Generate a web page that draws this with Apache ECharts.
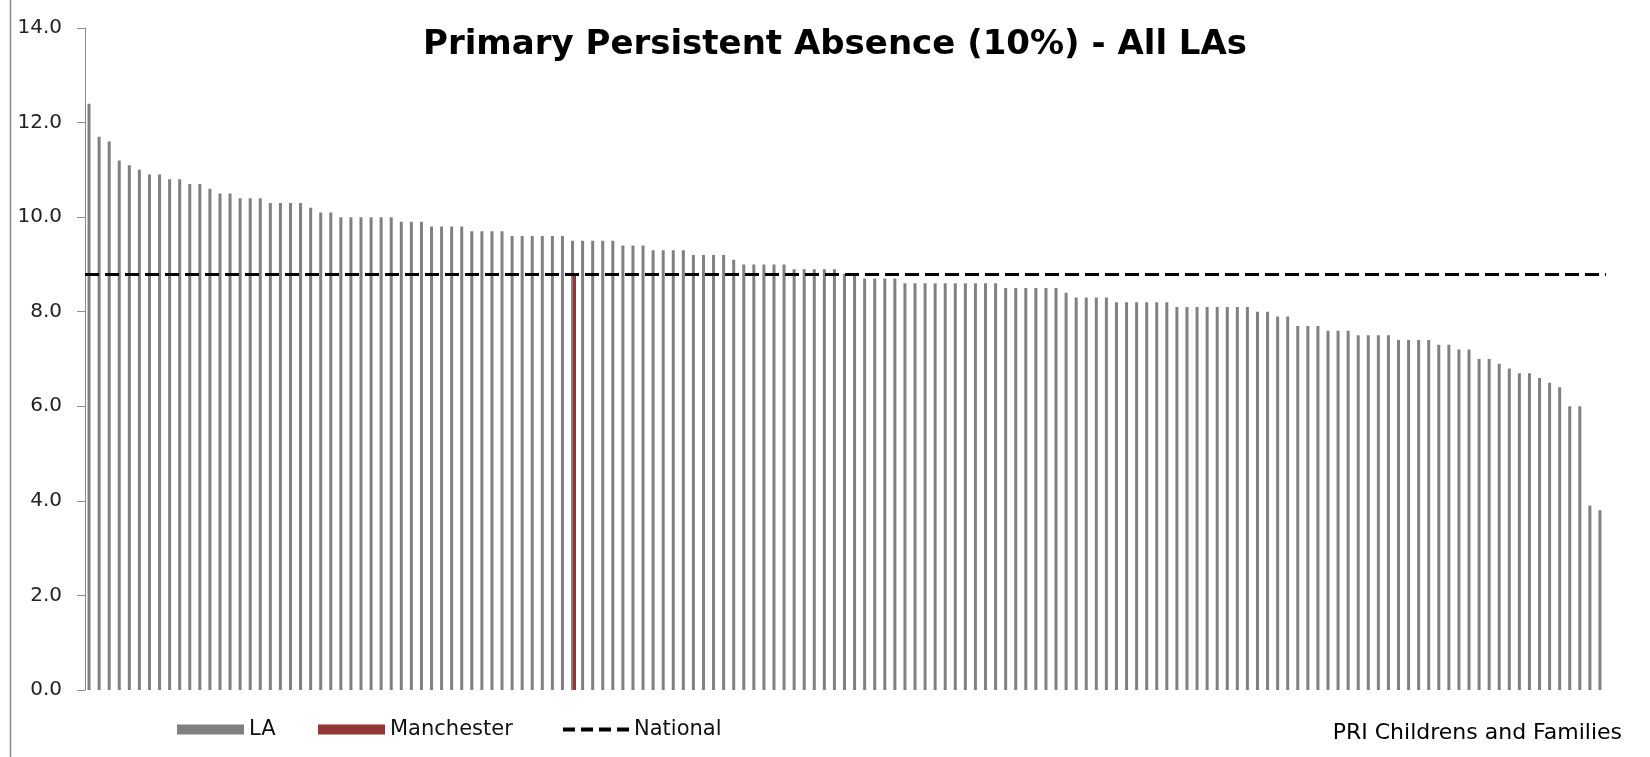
<!DOCTYPE html>
<html>
<head>
<meta charset="utf-8">
<title>Primary Persistent Absence (10%) - All LAs</title>
<script src="https://cdn.jsdelivr.net/npm/echarts@6/dist/echarts.min.js"></script>
<style>
  html, body { margin: 0; padding: 0; background: #fff; }
  #chart { width: 1650px; height: 757px; }
</style>
</head>
<body>
<div id="chart"></div>
<script>
// LA values, sorted high to low
const laValues = [
  12.4, 11.7, 11.6, 11.2, 11.1, 11.0, 10.9, 10.9, 10.8, 10.8,
  10.7, 10.7, 10.6, 10.5, 10.5, 10.4, 10.4, 10.4, 10.3, 10.3,
  10.3, 10.3, 10.2, 10.1, 10.1, 10.0, 10.0, 10.0, 10.0, 10.0,
  10.0, 9.9, 9.9, 9.9, 9.8, 9.8, 9.8, 9.8, 9.7, 9.7,
  9.7, 9.7, 9.6, 9.6, 9.6, 9.6, 9.6, 9.6, 9.5, 9.5,
  9.5, 9.5, 9.5, 9.4, 9.4, 9.4, 9.3, 9.3, 9.3, 9.3,
  9.2, 9.2, 9.2, 9.2, 9.1, 9.0, 9.0, 9.0, 9.0, 9.0,
  8.9, 8.9, 8.9, 8.9, 8.9, 8.8, 8.8, 8.7, 8.7, 8.7,
  8.7, 8.6, 8.6, 8.6, 8.6, 8.6, 8.6, 8.6, 8.6, 8.6,
  8.6, 8.5, 8.5, 8.5, 8.5, 8.5, 8.5, 8.4, 8.3, 8.3,
  8.3, 8.3, 8.2, 8.2, 8.2, 8.2, 8.2, 8.2, 8.1, 8.1,
  8.1, 8.1, 8.1, 8.1, 8.1, 8.1, 8.0, 8.0, 7.9, 7.9,
  7.7, 7.7, 7.7, 7.6, 7.6, 7.6, 7.5, 7.5, 7.5, 7.5,
  7.4, 7.4, 7.4, 7.4, 7.3, 7.3, 7.2, 7.2, 7.0, 7.0,
  6.9, 6.8, 6.7, 6.7, 6.6, 6.5, 6.4, 6.0, 6.0, 3.9,
  3.8
];
// Manchester bar sits in the same slot as LA number 49
const manchesterIndex = 48;
const manchesterValue = 8.8;
// national average
const nationalValue = 8.8;
const yTicks = [0, 2, 4, 6, 8, 10, 12, 14];

const categories = laValues.map((v, i) => String(i + 1));
const manchesterData = laValues.map((v, i) => (i === manchesterIndex ? manchesterValue : null));

const myChart = echarts.init(document.getElementById('chart'));

const legendText = { fontFamily: 'DejaVu Sans', fontSize: 21, color: '#111', lineHeight: 20 };

const option = {
  animation: false,
  backgroundColor: '#fff',
  title: {
    text: 'Primary Persistent Absence (10%) - All LAs',
    left: 423,
    top: 27,
    padding: 0,
    textStyle: {
      fontFamily: 'DejaVu Sans',
      fontWeight: 'bold',
      fontSize: 34,
      lineHeight: 36,
      color: '#000'
    }
  },
  legend: [
    {
      data: [{ name: 'LA', icon: 'rect' }],
      left: 177, top: 719, padding: 0,
      itemWidth: 67, itemHeight: 10, itemGap: 8,
      itemStyle: { color: '#808080' },
      textStyle: legendText
    },
    {
      data: [{ name: 'Manchester', icon: 'rect' }],
      left: 318, top: 719, padding: 0,
      itemWidth: 67, itemHeight: 10,
      itemStyle: { color: '#943634' },
      textStyle: legendText
    },
    {
      data: [{ name: 'National', icon: 'path://M0,0H12V4H0Z M18,0H30V4H18Z M36,0H48V4H36Z M54,0H66V4H54Z' }],
      left: 563, top: 719, padding: 0,
      itemWidth: 66, itemHeight: 4,
      itemStyle: { color: '#000' },
      textStyle: legendText
    }
  ],
  grid: { left: 85, right: 44, top: 28, bottom: 67, containLabel: false },
  xAxis: {
    type: 'category',
    data: categories,
    axisLine: { show: false },
    axisTick: { show: false },
    axisLabel: { show: false },
    splitLine: { show: false }
  },
  yAxis: {
    type: 'value',
    min: yTicks[0],
    max: yTicks[yTicks.length - 1],
    interval: 2,
    axisLine: { show: true, lineStyle: { color: '#8c8c8c', width: 1 } },
    axisTick: { show: true, length: 8, lineStyle: { color: '#8c8c8c' } },
    splitLine: { show: false },
    axisLabel: {
      margin: 23,
      fontFamily: 'DejaVu Sans',
      fontSize: 20,
      color: '#222',
      formatter: v => v.toFixed(1)
    }
  },
  series: [
    {
      name: 'LA',
      type: 'bar',
      data: laValues,
      barWidth: 3,
      barGap: '-33%',
      itemStyle: { color: '#808080' }
    },
    {
      name: 'Manchester',
      type: 'bar',
      data: manchesterData,
      barWidth: 3,
      itemStyle: { color: '#943634' }
    },
    {
      name: 'National',
      type: 'line',
      data: [],
      symbol: 'none',
      itemStyle: { color: '#000' },
      lineStyle: { color: '#000', width: 3, type: [14, 6] },
      markLine: {
        silent: true,
        symbol: ['none', 'none'],
        label: { show: false },
        lineStyle: { color: '#000', width: 3, type: [14, 6], cap: 'butt' },
        data: [{ yAxis: nationalValue }]
      }
    }
  ],
  graphic: [
    {
      type: 'line',
      shape: { x1: 10.5, y1: 0, x2: 10.5, y2: 757 },
      style: { stroke: '#8c8c8c', lineWidth: 1.5 }
    },
    {
      type: 'text',
      right: 28,
      top: 722,
      style: {
        text: 'PRI Childrens and Families',
        font: '22px "DejaVu Sans"',
        fill: '#000'
      }
    }
  ]
};

myChart.setOption(option);
</script>
</body>
</html>
